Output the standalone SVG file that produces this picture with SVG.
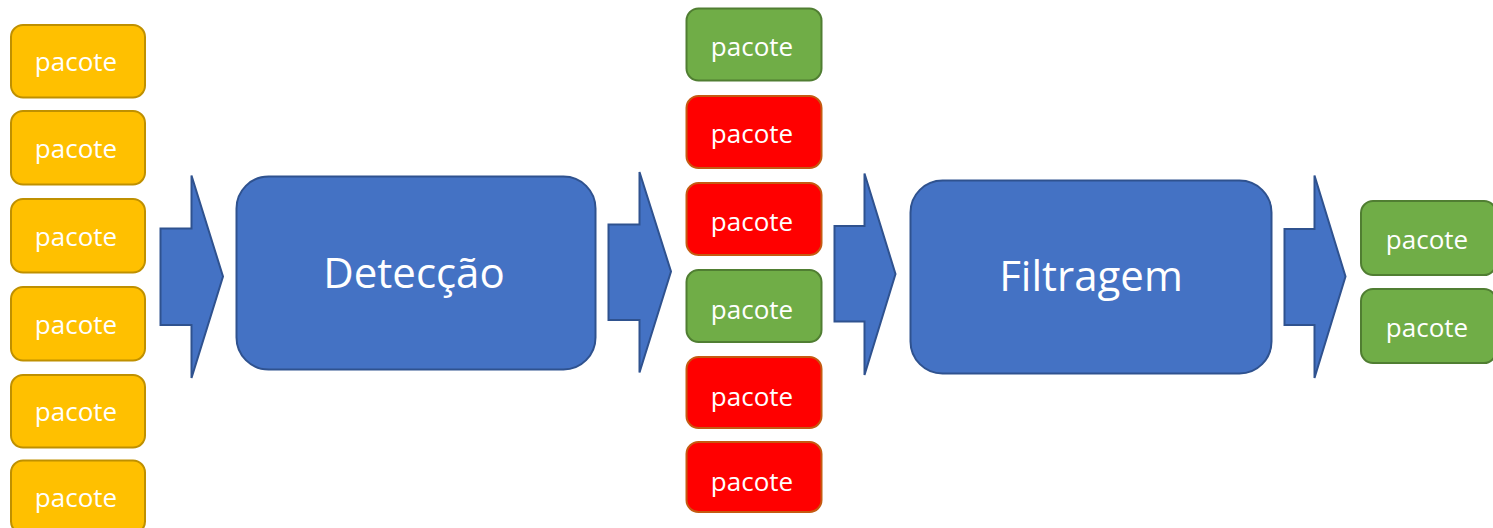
<svg xmlns="http://www.w3.org/2000/svg" width="1493" height="528" viewBox="0 0 1493 528">
<style>
.pk rect{stroke-width:2}
.pk text{font-family:"Open Sans","Liberation Sans",sans-serif;font-size:26px;fill:#ffffff;text-anchor:middle}
.y rect{fill:#FFC000;stroke:#BF9000}
.g rect{fill:#70AD47;stroke:#507E32}
.r rect{fill:#FF0000;stroke:#C55A11}
.proc rect{fill:#4472C4;stroke:#2F528F;stroke-width:2}
.proc text{font-family:"Open Sans","Liberation Sans",sans-serif;font-size:42px;fill:#ffffff;text-anchor:middle}
.arr polygon{fill:#4472C4;stroke:#2F528F;stroke-width:2;stroke-linejoin:miter}
</style>
<rect width="1493" height="528" fill="#ffffff"/>
<g id="in1" class="pk y"><rect x="11" y="25" width="134" height="72.5" rx="12"/><text x="76" y="71">pacote</text></g>
<g id="in2" class="pk y"><rect x="11" y="111" width="134" height="73.5" rx="12"/><text x="76" y="158">pacote</text></g>
<g id="in3" class="pk y"><rect x="11" y="199" width="134" height="73.5" rx="12"/><text x="76" y="246">pacote</text></g>
<g id="in4" class="pk y"><rect x="11" y="287" width="134" height="73.5" rx="12"/><text x="76" y="334">pacote</text></g>
<g id="in5" class="pk y"><rect x="11" y="375" width="134" height="72.5" rx="12"/><text x="76" y="421">pacote</text></g>
<g id="in6" class="pk y"><rect x="11" y="460.5" width="134" height="73" rx="12"/><text x="76" y="507">pacote</text></g>

<g id="deteccao" class="proc"><rect x="236.5" y="176.5" width="359" height="193" rx="32"/><text x="414" y="288">Detecção</text></g>

<g id="mid1" class="pk g"><rect x="686.5" y="8.5" width="135" height="72" rx="12"/><text x="752" y="56">pacote</text></g>
<g id="mid2" class="pk r"><rect x="686.5" y="96" width="135" height="72" rx="12"/><text x="752" y="143">pacote</text></g>
<g id="mid3" class="pk r"><rect x="686.5" y="183" width="135" height="72" rx="12"/><text x="752" y="231">pacote</text></g>
<g id="mid4" class="pk g"><rect x="686.5" y="270" width="135" height="72" rx="12"/><text x="752" y="319">pacote</text></g>
<g id="mid5" class="pk r"><rect x="686.5" y="357" width="135" height="71" rx="12"/><text x="752" y="406">pacote</text></g>
<g id="mid6" class="pk r"><rect x="686.5" y="442" width="135" height="70" rx="12"/><text x="752" y="491">pacote</text></g>

<g id="filtragem" class="proc"><rect x="910.5" y="180.5" width="361" height="193" rx="32"/><text x="1091" y="291">Filtragem</text></g>

<g id="out1" class="pk g"><rect x="1361" y="201" width="135" height="74" rx="12"/><text x="1427" y="249">pacote</text></g>
<g id="out2" class="pk g"><rect x="1361" y="289" width="135" height="74" rx="12"/><text x="1427" y="337">pacote</text></g>

<g id="connectors" class="arr">
<polygon points="160.5,228.5 191.5,228.5 191.5,175.5 223,276.5 191.5,378 191.5,325 160.5,325"/>
<polygon points="608.5,224.5 639.5,224.5 639.5,172 671,271.5 639.5,372.5 639.5,320 608.5,320"/>
<polygon points="834.5,226 864.5,226 864.5,173.5 895.5,274 864.5,375 864.5,321.5 834.5,321.5"/>
<polygon points="1284.5,229 1314.5,229 1314.5,175.5 1345.5,276.5 1314.5,378 1314.5,325 1284.5,325"/>
</g>
</svg>
